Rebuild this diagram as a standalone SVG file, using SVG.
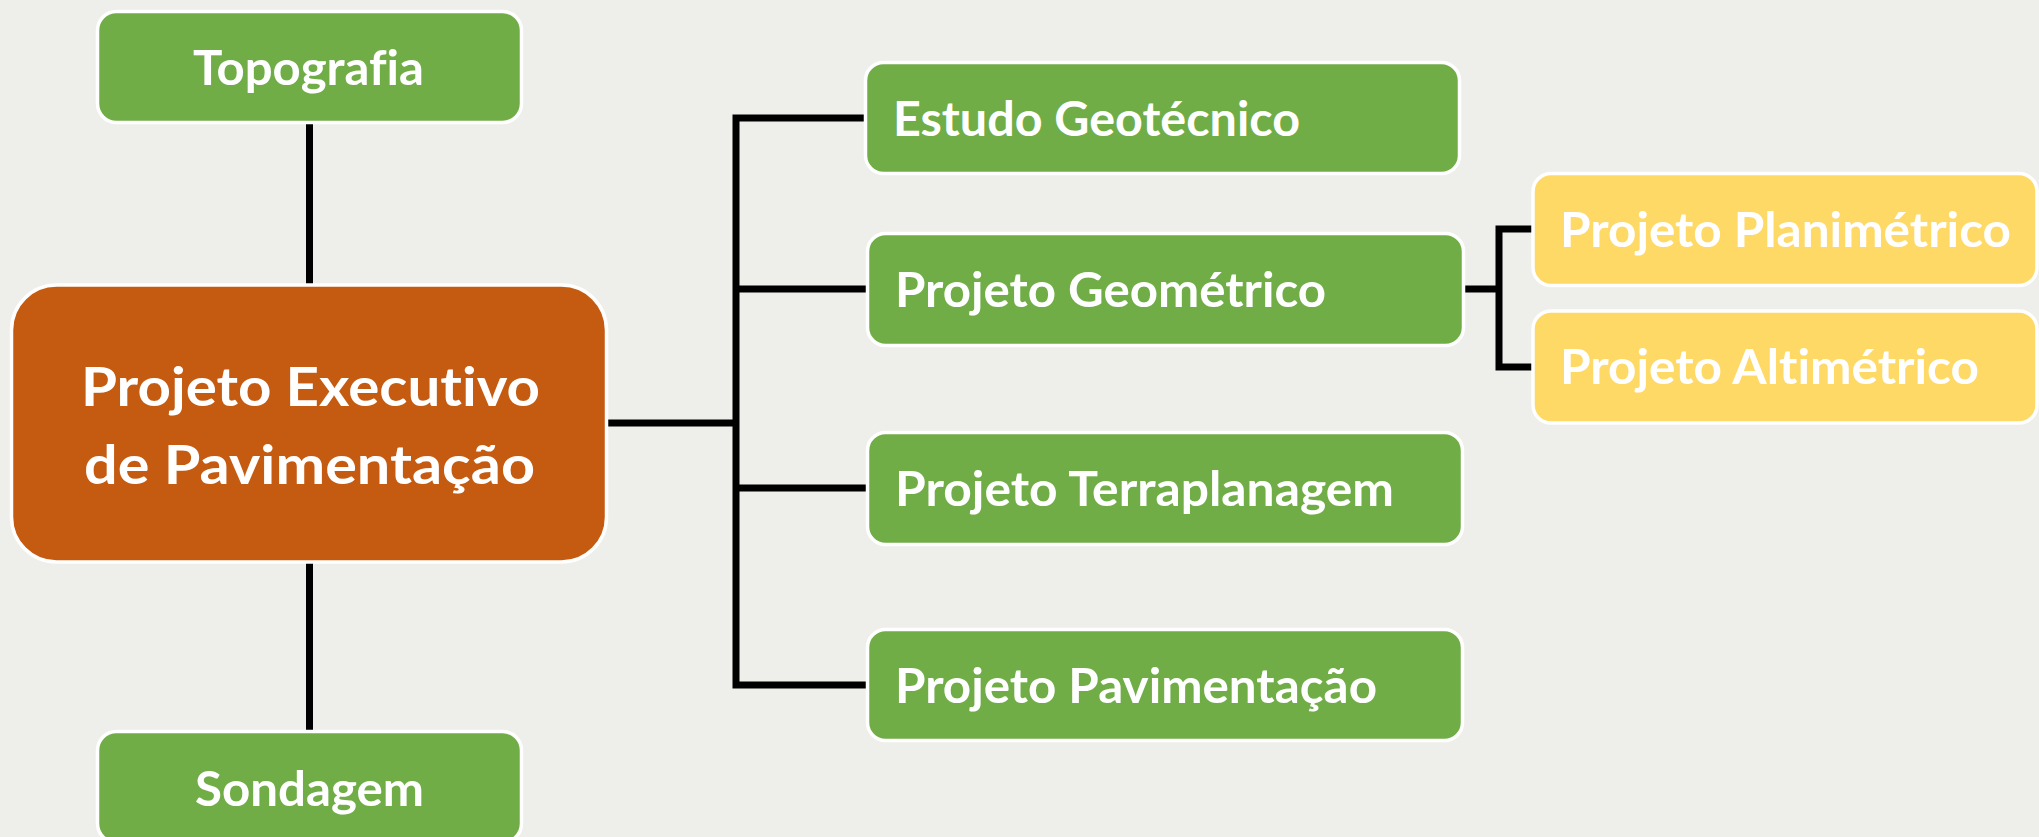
<svg xmlns="http://www.w3.org/2000/svg" width="2039" height="837" viewBox="0 0 2039 837">
<style>
.bg{fill:#EEEFEA}
.box{stroke:#FFFFFF;stroke-width:3.5}
.green{fill:#70AD47}
.orange{fill:#C55A11}
.yellow{fill:#FFD966}
.t{font-family:Lato,"Open Sans","Liberation Sans",sans-serif;font-weight:bold;fill:#FFFFFF;font-size:47px;font-variant-ligatures:none}
.tm{font-size:54px}
.con{fill:none;stroke:#000000;stroke-width:7;stroke-linejoin:miter;stroke-linecap:butt}
</style>
<rect class="bg" x="0" y="0" width="2039" height="837"/>
<g id="connectors">
<path class="con" d="M309.5 124 V284"/>
<path class="con" d="M309.5 563 V731"/>
<path class="con" d="M608 423 H736"/>
<path class="con" d="M864 118 H736 V685 H866"/>
<path class="con" d="M736 289 H866"/>
<path class="con" d="M736 488 H866"/>
<path class="con" d="M1465 289 H1499"/>
<path class="con" d="M1533 229 H1499 V367 H1533"/>
</g>
<g id="topografia">
<rect class="box green" x="97.5" y="11.5" width="424" height="111" rx="19"/>
<text class="t" x="193" y="85" textLength="231" lengthAdjust="spacingAndGlyphs">Topografia</text>
</g>
<g id="projeto-executivo">
<rect class="box orange" x="11.5" y="285" width="595" height="277" rx="45"/>
<text class="t tm" x="81" y="406" textLength="459" lengthAdjust="spacingAndGlyphs">Projeto Executivo</text>
<text class="t tm" x="84" y="484" textLength="451" lengthAdjust="spacingAndGlyphs">de Pavimentação</text>
</g>
<g id="sondagem">
<rect class="box green" x="97.5" y="731.5" width="424" height="111" rx="19"/>
<text class="t" x="195" y="806" textLength="229" lengthAdjust="spacingAndGlyphs">Sondagem</text>
</g>
<g id="estudo-geotecnico">
<rect class="box green" x="865.5" y="62.5" width="594" height="111" rx="18"/>
<text class="t" x="893" y="136" textLength="407" lengthAdjust="spacingAndGlyphs">Estudo Geotécnico</text>
</g>
<g id="projeto-geometrico">
<rect class="box green" x="867.5" y="233.5" width="596" height="112" rx="18"/>
<text class="t" x="895" y="307" textLength="431" lengthAdjust="spacingAndGlyphs">Projeto Geométrico</text>
</g>
<g id="projeto-terraplanagem">
<rect class="box green" x="867.5" y="432.5" width="595" height="112" rx="18"/>
<text class="t" x="895" y="506" textLength="499" lengthAdjust="spacingAndGlyphs">Projeto Terraplanagem</text>
</g>
<g id="projeto-pavimentacao">
<rect class="box green" x="867.5" y="629.5" width="595" height="111" rx="18"/>
<text class="t" x="895" y="703" textLength="482" lengthAdjust="spacingAndGlyphs">Projeto Pavimentação</text>
</g>
<g id="projeto-planimetrico">
<rect class="box yellow" x="1533" y="173.5" width="504" height="112" rx="18"/>
<text class="t" x="1560" y="247" textLength="451" lengthAdjust="spacingAndGlyphs">Projeto Planimétrico</text>
</g>
<g id="projeto-altimetrico">
<rect class="box yellow" x="1533" y="311" width="504" height="112" rx="18"/>
<text class="t" x="1560" y="384" textLength="419" lengthAdjust="spacingAndGlyphs">Projeto Altimétrico</text>
</g>
</svg>
